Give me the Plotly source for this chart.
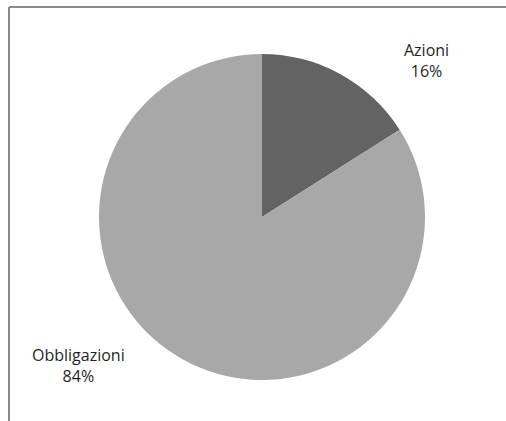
import plotly.graph_objects as go

# Asset allocation
categories = ["Azioni", "Obbligazioni"]
shares = [16, 84]
slice_colors = ["#636363", "#a8a8a8"]

W, H = 506, 421
cx, cy, r = 262, 217, 163  # pie centre and radius in pixels

fig = go.Figure(go.Pie(
    labels=categories,
    values=shares,
    sort=False,
    direction="clockwise",
    rotation=0,
    textinfo="none",
    hoverinfo="label+percent",
    marker=dict(colors=slice_colors, line=dict(width=0)),
    showlegend=False,
    domain=dict(
        x=[(cx - r) / W, (cx + r) / W],
        y=[(H - cy - r) / H, (H - cy + r) / H],
    ),
))

total = sum(shares)
label_pos = {"Azioni": (426, 60), "Obbligazioni": (78, 365)}
for cat, val in zip(categories, shares):
    px, py = label_pos[cat]
    fig.add_annotation(
        x=px / W, y=1 - py / H, xref="paper", yref="paper",
        xanchor="center", yanchor="middle",
        text=f"{cat}<br>{round(100 * val / total)}%",
        showarrow=False, align="center",
        font=dict(family="Open Sans, Liberation Sans, sans-serif", size=16, color="#1f1f1f"),
    )

# Chart frame: top edge and left edge
fig.add_shape(type="line", xref="paper", yref="paper",
              x0=9 / W, x1=1, y0=1 - 7 / H, y1=1 - 7 / H,
              line=dict(color="#8a8a8a", width=2))
fig.add_shape(type="line", xref="paper", yref="paper",
              x0=9 / W, x1=9 / W, y0=1 - 7 / H, y1=0,
              line=dict(color="#8a8a8a", width=2))

fig.update_layout(
    width=W, height=H,
    margin=dict(l=0, r=0, t=0, b=0),
    paper_bgcolor="white",
    plot_bgcolor="white",
)

fig.write_html(
    "out.html",
    config={"displayModeBar": False},
    post_script="document.body.style.margin='0';document.body.style.overflow='hidden';",
)
